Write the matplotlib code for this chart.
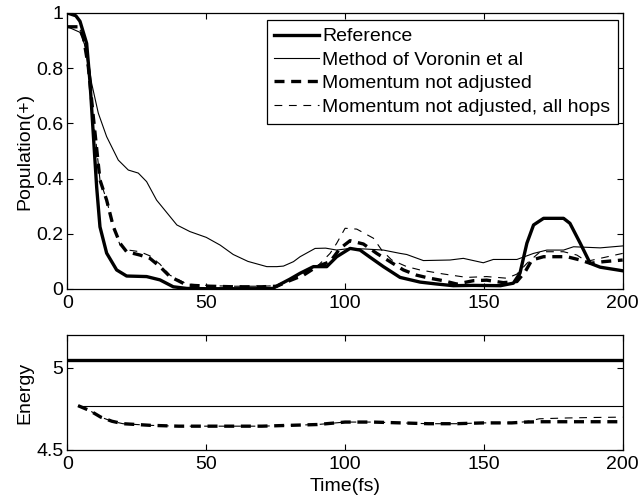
import numpy as np
import matplotlib
matplotlib.use("Agg")
import matplotlib.pyplot as plt
from matplotlib.ticker import FuncFormatter

plt.rcParams['font.family'] = ['Liberation Sans', 'DejaVu Sans']
plt.rcParams['font.size'] = 14

# Population(+) curves
t_ref = [0, 3, 4.5, 6.9, 8.1, 9.3, 10.5, 11.7, 14.1, 17.7, 21.3, 28.5, 33.3, 38.1, 43, 50, 60, 70, 74,
         76, 80, 83.8, 88.6, 93.4, 97, 101.8, 105.4, 109, 113.8, 119.8, 127, 133, 139, 146, 156, 160.6,
         163, 165.5, 167.9, 171.5, 178.7, 181, 184.7, 188.3, 191.9, 200]
p_ref = [1.0, 0.99, 0.97, 0.89, 0.75, 0.56, 0.37, 0.225, 0.13, 0.069, 0.047, 0.045, 0.033, 0.008, 0.002,
         0.001, 0.001, 0.001, 0.002, 0.014, 0.035, 0.057, 0.081, 0.081, 0.117, 0.147, 0.141, 0.115, 0.081,
         0.042, 0.025, 0.018, 0.012, 0.013, 0.012, 0.021, 0.057, 0.166, 0.232, 0.256, 0.256, 0.238, 0.166,
         0.093, 0.079, 0.066]

t_vor = [0, 4.5, 6.9, 8.7, 11.1, 14.1, 18.3, 21.9, 25.5, 28.5, 32.1, 39.4, 44.1, 50, 55, 59.7, 65, 71.8,
         75.4, 77.8, 81.4, 83.8, 89.2, 93, 97, 101.8, 107, 113.8, 119.8, 122.2, 128.2, 137.8, 142.6, 149.8,
         153.4, 161.9, 167.9, 172.7, 178.7, 182.3, 191.9, 200]
p_vor = [0.95, 0.93, 0.866, 0.745, 0.637, 0.552, 0.467, 0.431, 0.42, 0.389, 0.322, 0.232, 0.208, 0.187,
         0.159, 0.125, 0.1, 0.081, 0.081, 0.083, 0.099, 0.117, 0.147, 0.148, 0.141, 0.147, 0.145, 0.141,
         0.129, 0.125, 0.103, 0.105, 0.111, 0.095, 0.107, 0.107, 0.129, 0.141, 0.141, 0.153, 0.149, 0.156]

t_mom = [0, 4, 5.7, 7.5, 9.3, 11.7, 14.1, 16.5, 18.9, 21.3, 26.1, 29.7, 33.3, 36.9, 43, 51.4, 60, 70,
         75.4, 80, 85, 89.8, 94.6, 98.2, 101.8, 106.6, 111.4, 116.2, 121, 125.8, 130, 135.4, 140.2, 146.2,
         151, 157, 161.9, 164.9, 167.3, 171.5, 179.9, 184.7, 188.3, 193.1, 200]
p_mom = [0.95, 0.95, 0.914, 0.805, 0.624, 0.395, 0.322, 0.226, 0.166, 0.135, 0.123, 0.111, 0.081, 0.045,
         0.014, 0.01, 0.008, 0.008, 0.01, 0.03, 0.05, 0.081, 0.099, 0.147, 0.175, 0.163, 0.129, 0.099,
         0.069, 0.05, 0.04, 0.03, 0.018, 0.03, 0.032, 0.023, 0.027, 0.063, 0.105, 0.117, 0.117, 0.105,
         0.093, 0.099, 0.105]

t_all = [0, 4, 5.7, 7.5, 9.3, 11.7, 14.1, 16.5, 18.9, 21.3, 26.1, 29.7, 33.3, 36.9, 43, 51.4, 60, 70,
         75.4, 80, 85, 89.8, 94.6, 97, 100, 104.2, 110.2, 113.2, 116.8, 122.2, 127, 135, 143.8, 151, 158.3,
         161.9, 165.5, 170.3, 178.7, 183.5, 187, 191.9, 200]
p_all = [0.95, 0.95, 0.914, 0.805, 0.624, 0.395, 0.322, 0.226, 0.16, 0.142, 0.135, 0.12, 0.09, 0.05,
         0.018, 0.012, 0.01, 0.01, 0.012, 0.03, 0.055, 0.08, 0.129, 0.166, 0.22, 0.217, 0.184, 0.141, 0.105,
         0.081, 0.069, 0.055, 0.042, 0.045, 0.039, 0.054, 0.093, 0.135, 0.135, 0.123, 0.1, 0.111, 0.129]

# Energy curves
te_ref = [0, 200]
e_ref = [5.05, 5.05]
te_vor = [3.8, 200]
e_vor = [4.77, 4.77]
te_mom = [3.8, 8, 12, 16, 20, 30, 40, 50, 60, 70, 80, 90, 100, 110, 120, 130, 140, 150, 160, 165, 170,
          180, 190, 200]
e_mom = [4.77, 4.74, 4.70, 4.675, 4.66, 4.65, 4.645, 4.645, 4.645, 4.645, 4.65, 4.655, 4.67, 4.67, 4.665,
         4.66, 4.66, 4.665, 4.665, 4.67, 4.672, 4.672, 4.672, 4.672]
te_all = te_mom
e_all = [4.77, 4.74, 4.70, 4.675, 4.66, 4.65, 4.645, 4.645, 4.645, 4.645, 4.65, 4.655, 4.67, 4.67, 4.665,
         4.66, 4.66, 4.665, 4.665, 4.672, 4.69, 4.695, 4.698, 4.70]

labels = ['Reference', 'Method of Voronin et al', 'Momentum not adjusted', 'Momentum not adjusted, all hops']
xticks = [0, 50, 100, 150, 200]

fig = plt.figure(figsize=(6.41, 4.98), dpi=100)
ax1 = fig.add_axes([0.1053, 0.4197, 0.8661, 0.5542])
ax2 = fig.add_axes([0.1053, 0.0964, 0.8661, 0.2309])

thick = dict(color='black', lw=2.4)
thin = dict(color='black', lw=0.8)
thick_dash = dict(color='black', lw=2.4, dashes=[3, 2])
thin_dash = dict(color='black', lw=0.8, dashes=[7, 6])

ax1.plot(t_ref, p_ref, label=labels[0], **thick)
ax1.plot(t_vor, p_vor, label=labels[1], **thin)
ax1.plot(t_mom, p_mom, label=labels[2], **thick_dash)
ax1.plot(t_all, p_all, label=labels[3], **thin_dash)

ax2.plot(te_ref, e_ref, **thick)
ax2.plot(te_vor, e_vor, **thin)
ax2.plot(te_mom, e_mom, **thick_dash)
ax2.plot(te_all, e_all, **thin_dash)

fmt = FuncFormatter(lambda v, p: '%g' % v)
for ax in (ax1, ax2):
    ax.set_xlim(0, 200)
    ax.set_xticks(xticks)
    ax.xaxis.set_major_formatter(fmt)
    ax.yaxis.set_major_formatter(fmt)
    ax.tick_params(direction='in', top=True, right=True, length=4, width=0.8, labelsize=14)
    ax.tick_params(axis='x', pad=4)
    ax.tick_params(axis='y', pad=3)
    for s in ax.spines.values():
        s.set_linewidth(0.9)

ax1.set_ylim(0, 1)
ax1.set_yticks([0, 0.2, 0.4, 0.6, 0.8, 1])
ax1.set_ylabel('Population(+)', labelpad=2)

ax2.set_ylim(4.5, 5.2)
ax2.set_yticks([4.5, 5])
ax2.set_ylabel('Energy', labelpad=2)
ax2.set_xlabel('Time(fs)', labelpad=4)

leg = ax1.legend(loc='upper right', bbox_to_anchor=(0.9915, 0.9746), borderaxespad=0,
                 fontsize=14, handlelength=2.3, handletextpad=0.15, labelspacing=0.3,
                 borderpad=0.4, fancybox=False, framealpha=1, edgecolor='black')
leg.get_frame().set_linewidth(0.9)

fig.savefig('out.png', dpi=100)
